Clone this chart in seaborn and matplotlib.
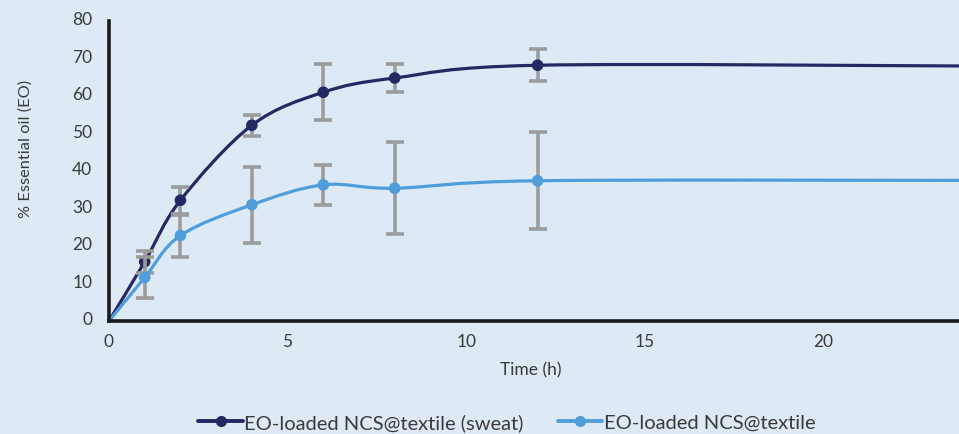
import numpy as np
import pandas as pd
import matplotlib
matplotlib.use("Agg")
import matplotlib.pyplot as plt
import matplotlib.transforms as mtransforms
import seaborn as sns
from matplotlib.path import Path
from matplotlib.patches import PathPatch
from matplotlib.lines import Line2D

# ---- data ----
time_h = [0, 1, 2, 4, 6, 8, 12, 24]
sweat_vals = [0, 15.8, 32.2, 52.2, 61.0, 64.8, 68.2, 68.0]
sweat_err = [0, 3.0, 3.6, 2.8, 7.5, 3.8, 4.3, 0]
plain_vals = [0, 11.6, 22.8, 31.0, 36.3, 35.4, 37.4, 37.5]
plain_err = [0, 5.5, 5.6, 10.1, 5.4, 12.3, 12.9, 0]
series_names = ["EO-loaded NCS@textile (sweat)", "EO-loaded NCS@textile"]
x_ticks = [0, 5, 10, 15, 20]
y_ticks = [0, 10, 20, 30, 40, 50, 60, 70, 80]

BG = "#ddeaf6"
DARK = "#252862"
LIGHT = "#4f9ddb"
ERR = "#9c9c9c"
TXT = "#3a3a3a"

sns.set_style("white")
plt.rcParams["font.family"] = ["Lato", "DejaVu Sans"]

fig = plt.figure(figsize=(9.59, 4.35), dpi=100, facecolor=BG)
ax = fig.add_axes([109 / 959, 1 - 322 / 435, 850 / 959, 300 / 435])
ax.set_facecolor(BG)


def smooth_path(xs, ys):
    xs = np.asarray(xs, float)
    ys = np.asarray(ys, float)
    pts = np.column_stack([xs, ys])
    n = len(pts)
    verts = [pts[0]]
    codes = [Path.MOVETO]
    for i in range(n - 1):
        p0 = pts[i - 1] if i > 0 else pts[i]
        p1 = pts[i]
        p2 = pts[i + 1]
        p3 = pts[i + 2] if i + 2 < n else pts[i + 1]
        c1 = p1 + (p2 - p0) / 6.0
        c2 = p2 - (p3 - p1) / 6.0
        verts += [c1, c2, p2]
        codes += [Path.CURVE4] * 3
    return Path(verts, codes)


def draw_series(vals, errs, color, z):
    path = smooth_path(time_h, vals)
    ax.add_patch(PathPatch(path, facecolor="none", edgecolor=color,
                           lw=2.3, zorder=z, capstyle="round"))
    df = pd.DataFrame({"t": time_h[1:-1], "v": vals[1:-1], "e": errs[1:-1]})
    ax.errorbar(df["t"], df["v"], yerr=df["e"], fmt="none", ecolor=ERR,
                elinewidth=2.6, capsize=6.5, capthick=2.6, zorder=z + 0.1)
    sns.scatterplot(data=df, x="t", y="v", ax=ax, color=color, s=70,
                    edgecolor="none", zorder=z + 0.2, legend=False)


draw_series(sweat_vals, sweat_err, DARK, 3)
draw_series(plain_vals, plain_err, LIGHT, 4)

ax.set_xlim(0, 23.8)
ax.set_ylim(0, 80)
ax.set_xticks(x_ticks)
ax.set_yticks(y_ticks)
ax.tick_params(axis="both", length=0, labelsize=12.5, colors=TXT)
ax.tick_params(axis="x", pad=9)
ax.tick_params(axis="y", pad=12)
shift = mtransforms.ScaledTranslation(0, 3 / 100, fig.dpi_scale_trans)
for lbl in ax.get_yticklabels():
    lbl.set_transform(lbl.get_transform() + shift)

for s in ["top", "right"]:
    ax.spines[s].set_visible(False)
for s in ["left", "bottom"]:
    ax.spines[s].set_color("#1a1a1a")
    ax.spines[s].set_linewidth(2.6)
    ax.spines[s].set_zorder(6)

ax.set_xlabel("Time (h)", fontsize=12.5, color=TXT)
ax.set_ylabel("% Essential oil (EO)", fontsize=11.8, color=TXT)
ax.xaxis.set_label_coords(0.496, -0.135)
ax.yaxis.set_label_coords(-0.090, 0.577)

handles = [
    Line2D([], [], color=DARK, lw=2.8, marker="o", markersize=7),
    Line2D([], [], color=LIGHT, lw=2.8, marker="o", markersize=7),
]
fig.legend(handles, series_names, loc="center", ncol=2,
           bbox_to_anchor=(507 / 959, 1 - 423 / 435), frameon=False,
           fontsize=14.5, handlelength=2.2, handletextpad=0.08,
           columnspacing=1.7, labelcolor=TXT)

fig.savefig("out.png", dpi=100, facecolor=BG)
